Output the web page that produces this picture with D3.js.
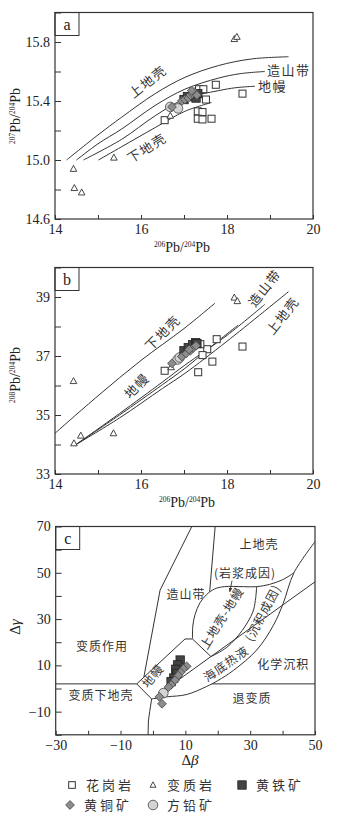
<!DOCTYPE html>
<html>
<head>
<meta charset="utf-8">
<script src="https://cdn.jsdelivr.net/npm/d3@7"></script>
<style>
    body { margin: 0; background: #fff; }
    svg text { font-family: "Liberation Serif", "DejaVu Serif", serif; fill: #222; }
    svg text.cn { font-family: "Noto Sans CJK SC", sans-serif; font-size: 12px; fill: #333; letter-spacing: 1px; }
    svg text.cn.big { font-size: 13px; letter-spacing: 1.5px; }
</style>
</head>
<body>
<div id="chart"></div>
<script>

// ---- panel a : 207Pb/204Pb vs 206Pb/204Pb ----
const a_upperCrust = [[14.27,15.0],[15.0,15.17],[15.55,15.29],[16.33,15.45],[17.02,15.56],[17.8,15.64],[18.57,15.685],[19.43,15.70]];
const a_orogen = [[14.5,15.0],[15.0,15.11],[15.55,15.21],[16.33,15.37],[17.02,15.48],[17.8,15.555],[18.3,15.585],[18.88,15.60]];
const a_mantle = [[14.66,15.0],[15.55,15.14],[16.33,15.30],[17.02,15.415],[17.8,15.47],[18.2,15.49],[18.65,15.50]];
const a_lowerCrust = [[15.01,15.0],[15.55,15.09],[16.33,15.22],[17.02,15.33],[17.64,15.39]];

const a_granite = [[16.55,15.27],[17.74,15.51],[18.36,15.45],[17.35,15.48],[17.45,15.48],[17.51,15.41],
    [17.32,15.33],[17.43,15.325],[17.32,15.28],[17.43,15.275],[17.64,15.28]];
const a_metamorphic = [[14.43,14.94],[14.45,14.81],[14.62,14.78],[15.37,15.016],[16.68,15.30],[18.17,15.82],[18.23,15.835]];
const a_pyrite = [[17.0,15.41],[17.08,15.43],[17.2,15.44],[17.28,15.42],[17.32,15.45]];
const a_chalcopyrite = [[16.72,15.36],[16.95,15.40],[17.02,15.41],[17.1,15.42],[17.15,15.44],[17.2,15.45],[17.25,15.46],[17.18,15.47],[17.3,15.44]];
const a_galena = [[16.68,15.36],[16.86,15.35]];

// ---- panel b : 208Pb/204Pb vs 206Pb/204Pb ----
const b_lowerCrust = [[14.0,34.38],[15.0,35.65],[16.0,36.85],[17.0,37.93],[17.72,38.79]];
const b_upperCrust = [[14.47,33.98],[15.5,34.9],[16.5,35.9],[17.02,36.41],[18.0,37.5],[19.43,39.18]];
const b_orogen = [[14.47,33.98],[15.5,35.05],[16.5,36.12],[17.02,36.69],[18.0,37.7],[18.88,38.75]];
const b_mantle = [[14.47,33.98],[15.5,35.0],[16.5,36.03],[17.02,36.58],[17.7,37.4],[18.26,38.05]];

const b_granite = [[16.55,36.50],[17.76,37.57],[18.36,37.32],[17.66,36.81],[17.33,36.45],[17.54,37.23],[17.43,37.03],[17.38,37.40]];
const b_metamorphic = [[14.43,36.15],[14.44,34.04],[14.6,34.30],[15.36,34.38],[16.7,36.62],[18.17,38.98],[18.24,38.86]];
const b_pyrite = [[17.0,37.18],[17.1,37.28],[17.2,37.38],[17.27,37.45],[17.3,37.42]];
const b_chalcopyrite = [[16.72,36.75],[16.95,36.98],[17.05,37.08],[17.15,37.18],[17.22,37.28],[17.28,37.35],[17.12,37.22]];
const b_galena = [[16.85,36.88],[16.9,36.95]];

// ---- panel c : Δγ vs Δβ ----
const c_baseLeft = [[-30,2],[-5,2]];
const c_baseRight = [[18.2,2],[50,2]];
const c_orogenLeft = [[12,70],[2.2,42.5],[-2.8,4.9]];
const c_orogenRight = [[19.2,70],[17.5,41.8]];
const c_mantleBox = [[-0.4,-4.5],[-5,2],[9.9,21.4],[12.2,21.4],[17.9,13.8]];
const c_lowerLine = [[-0.4,-4.5],[-1.0,-10],[-1.4,-14],[-1.5,-20]];
const c_mixTop = [[12.2,21.4],[12.3,27],[13,32],[14.5,37],[16.5,40.5],[19,43],[22,44],[28,44],[32,44],[36,45],[40,47],[43.5,50]];
const c_mixSplit = [[17.9,13.8],[22.8,17.8],[27.5,25],[30.8,33],[31.6,38],[32,44]];
const c_ventTop = [[2,-2.2],[50,46.1]];
const c_ventBottom = [[-0.4,-4.5],[4.3,-3.6],[10.4,-2.6],[16.6,0.9],[20,3.4],[24.8,7.8],[32,16.6],[37.2,27.4],[40.2,36.8],[43.5,50],[50,63.4]];
const c_magmaArrow = [[24.4,46.6],[23.7,41.8]];

const c_pyrite = [[8.4,12.3],[7.6,10.2],[7.0,8.3],[7.4,6.5],[6.4,4.5],[5.6,3.0]];
const c_chalcopyrite = [[10.4,9.6],[9.4,8.5],[8.5,7.0],[7.8,5.6],[6.8,3.6],[5.6,1.6],[4.8,0.6],[2.0,-3.6],[2.8,-6.6]];
const c_galena = [[3.2,-2.0]];

// ticks
const a_xTicks = [14, 15, 16, 17, 18, 19, 20];
const a_xLabels = [14, 16, 18, 20];
const a_yTicks = [14.6, 14.8, 15.0, 15.2, 15.4, 15.6, 15.8, 16.0];
const a_yLabels = [14.6, 15.0, 15.4, 15.8];
const b_yTicks = [33, 34, 35, 36, 37, 38, 39, 40];
const b_yLabels = [33, 35, 37, 39];
const c_xTicks = [-30, -20, -10, 0, 10, 20, 30, 40, 50];
const c_xLabels = [-30, -10, 10, 30, 50];
const c_yTicks = [-20, -10, 0, 10, 20, 30, 40, 50, 60, 70];
const c_yLabels = [-10, 10, 30, 50, 70];

const legendItems = [
    {name: "花岗岩", type: "granite"},
    {name: "变质岩", type: "metamorphic"},
    {name: "黄铁矿", type: "pyrite"},
    {name: "黄铜矿", type: "chalcopyrite"},
    {name: "方铅矿", type: "galena"}
];

const svg = d3.select("#chart").append("svg")
    .attr("width", 340)
    .attr("height", 824);

function drawPanel(opt) {
    let p = {};
    p.x = d3.scaleLinear().domain(opt.xDomain).range([opt.left, opt.right]);
    p.y = d3.scaleLinear().domain(opt.yDomain).range([opt.bottom, opt.top]);
    p.g = svg.append("g");

    let fmt = (labels, f) => d => labels.some(v => Math.abs(v - d) < 1e-9) ? f(d) : "";

    p.g.append("g")
        .attr("transform", `translate(0,${opt.bottom})`)
        .call(d3.axisBottom(p.x).tickValues(opt.xTicks).tickSize(-4).tickPadding(5)
            .tickFormat(fmt(opt.xLabels, opt.xFmt)))
        .call(g => g.select(".domain").remove())
        .call(g => g.selectAll("text").attr("font-size", 14).attr("fill", "#222")
            .style("font-family", "Liberation Serif"));

    p.g.append("g")
        .attr("transform", `translate(${opt.left},0)`)
        .call(d3.axisLeft(p.y).tickValues(opt.yTicks).tickSize(-6).tickPadding(5)
            .tickFormat(fmt(opt.yLabels, opt.yFmt)))
        .call(g => g.select(".domain").remove())
        .call(g => g.selectAll("text").attr("font-size", 14).attr("fill", "#222")
            .style("font-family", "Liberation Serif"));

    p.g.selectAll(".tick line").attr("stroke", "#333");

    // frame
    p.g.append("rect")
        .attr("x", opt.left).attr("y", opt.top)
        .attr("width", opt.right - opt.left).attr("height", opt.bottom - opt.top)
        .attr("fill", "none").attr("stroke", "#333").attr("stroke-width", 1.2);

    // panel letter box
    p.g.append("rect")
        .attr("x", opt.left).attr("y", opt.top)
        .attr("width", 24).attr("height", 23)
        .attr("fill", "none").attr("stroke", "#333").attr("stroke-width", 1);
    p.g.append("text")
        .attr("x", opt.left + 12).attr("y", opt.top + 17)
        .attr("text-anchor", "middle").attr("font-size", 16)
        .text(opt.letter);

    return p;
}

function curve(p, pts, kind) {
    let line = d3.line().x(d => p.x(d[0])).y(d => p.y(d[1]))
        .curve(kind === "lin" ? d3.curveLinear : d3.curveCatmullRom.alpha(0.5));
    p.g.append("path").datum(pts)
        .attr("d", line)
        .attr("fill", "none").attr("stroke", "#333").attr("stroke-width", 1);
}

function cnLabel(p, t, x, y, rot, anchor, big) {
    p.g.append("text").attr("class", big ? "cn big" : "cn")
        .attr("transform", `translate(${p.x(x)},${p.y(y)}) rotate(${rot || 0})`)
        .attr("text-anchor", anchor || "middle")
        .attr("dy", "0.35em")
        .text(t);
}

function marker(g, type, cx, cy, s) {
    s = s || 1;
    if (type === "granite") {
        g.append("rect").attr("x", cx - 3.5 * s).attr("y", cy - 3.5 * s)
            .attr("width", 7 * s).attr("height", 7 * s)
            .attr("fill", "#fff").attr("stroke", "#333").attr("stroke-width", 1);
    } else if (type === "metamorphic") {
        g.append("path").attr("d", `M${cx},${cy - 3.5 * s}L${cx + 3.3 * s},${cy + 2.5 * s}L${cx - 3.3 * s},${cy + 2.5 * s}Z`)
            .attr("fill", "#fff").attr("stroke", "#333").attr("stroke-width", 0.9);
    } else if (type === "pyrite") {
        g.append("rect").attr("x", cx - 4.2 * s).attr("y", cy - 4.2 * s)
            .attr("width", 8.4 * s).attr("height", 8.4 * s)
            .attr("fill", "#444").attr("stroke", "#222").attr("stroke-width", 0.8);
    } else if (type === "chalcopyrite") {
        g.append("path").attr("d", `M${cx},${cy - 4.4 * s}L${cx + 4.4 * s},${cy}L${cx},${cy + 4.4 * s}L${cx - 4.4 * s},${cy}Z`)
            .attr("fill", "#8d8d8d").attr("stroke", "#444").attr("stroke-width", 0.8);
    } else if (type === "galena") {
        g.append("circle").attr("cx", cx).attr("cy", cy).attr("r", 4.8 * s)
            .attr("fill", "#d4d4d4").attr("stroke", "#555").attr("stroke-width", 0.9);
    }
}

function points(p, pts, type) {
    pts.forEach(d => marker(p.g, type, p.x(d[0]), p.y(d[1])));
}

function pbLabel(g, x, y, top, bottom, rot) {
    let t = g.append("text")
        .attr("transform", `translate(${x},${y}) rotate(${rot})`)
        .attr("text-anchor", "middle")
        .attr("font-size", 14);
    t.append("tspan").attr("font-size", 7.5).attr("dy", -5).text(top);
    t.append("tspan").attr("dy", 5).text("Pb/");
    t.append("tspan").attr("font-size", 7.5).attr("dy", -5).text(bottom);
    t.append("tspan").attr("dy", 5).text("Pb");
}

// ---- panel a ----
let pa = drawPanel({
    xDomain: [14, 20], yDomain: [14.6, 16.0],
    left: 55, right: 313, top: 12.5, bottom: 219,
    xTicks: a_xTicks, xLabels: a_xLabels, xFmt: d3.format("d"),
    yTicks: a_yTicks, yLabels: a_yLabels, yFmt: d3.format(".1f"),
    letter: "a"
});
[a_upperCrust, a_orogen, a_mantle, a_lowerCrust].forEach(c => curve(pa, c));
cnLabel(pa, "上地壳", 16.16, 15.53, -38, null, true);
cnLabel(pa, "下地壳", 16.14, 15.08, -32, null, true);
cnLabel(pa, "造山带", 18.93, 15.61, 0, "start", true);
cnLabel(pa, "地幔", 18.72, 15.50, 0, "start", true);
points(pa, a_granite, "granite");
points(pa, a_metamorphic, "metamorphic");
points(pa, a_galena, "galena");
points(pa, a_pyrite, "pyrite");
points(pa, a_chalcopyrite, "chalcopyrite");
pbLabel(svg, 182, 252, "206", "204", 0);
pbLabel(svg, 20, 116, "207", "204", -90);

// ---- panel b ----
let pb = drawPanel({
    xDomain: [14, 20], yDomain: [33, 40],
    left: 55, right: 313, top: 267.5, bottom: 474,
    xTicks: a_xTicks, xLabels: a_xLabels, xFmt: d3.format("d"),
    yTicks: b_yTicks, yLabels: b_yLabels, yFmt: d3.format("d"),
    letter: "b"
});
[b_lowerCrust, b_upperCrust, b_orogen, b_mantle].forEach(c => curve(pb, c));
cnLabel(pb, "下地壳", 16.51, 37.78, -45, null, true);
cnLabel(pb, "地幔", 15.91, 35.98, -45, null, true);
cnLabel(pb, "造山带", 18.88, 39.3, -52, null, true);
cnLabel(pb, "上地壳", 19.3, 38.36, -52, null, true);
points(pb, b_granite, "granite");
points(pb, b_metamorphic, "metamorphic");
points(pb, b_galena, "galena");
points(pb, b_pyrite, "pyrite");
points(pb, b_chalcopyrite, "chalcopyrite");
pbLabel(svg, 187, 507, "206", "204", 0);
pbLabel(svg, 20, 375, "208", "204", -90);

// ---- panel c ----
let pc = drawPanel({
    xDomain: [-30, 50], yDomain: [-20, 70],
    left: 55.7, right: 315, top: 526.5, bottom: 734.8,
    xTicks: c_xTicks, xLabels: c_xLabels, xFmt: d => d < 0 ? "\u2212" + Math.abs(d) : d,
    yTicks: c_yTicks, yLabels: c_yLabels, yFmt: d => d < 0 ? "\u2212" + Math.abs(d) : d,
    letter: "c"
});
[c_baseLeft, c_baseRight, c_orogenLeft, c_orogenRight, c_mantleBox, c_lowerLine, c_ventTop].forEach(c => curve(pc, c, "lin"));
[c_mixTop, c_mixSplit, c_ventBottom].forEach(c => curve(pc, c));

// arrow for (岩浆成因)
svg.append("defs").append("marker")
    .attr("id", "arr").attr("viewBox", "0 0 10 10").attr("refX", 9).attr("refY", 5)
    .attr("markerWidth", 5).attr("markerHeight", 5).attr("orient", "auto")
    .append("path").attr("d", "M0,1L10,5L0,9Z").attr("fill", "#333");
pc.g.append("path").datum(c_magmaArrow)
    .attr("d", d3.line().x(d => pc.x(d[0])).y(d => pc.y(d[1])))
    .attr("stroke", "#333").attr("stroke-width", 0.9).attr("marker-end", "url(#arr)");

cnLabel(pc, "上地壳", 32.7, 62);
cnLabel(pc, "(岩浆成因)", 28.4, 49.7);
cnLabel(pc, "造山带", 10.2, 40.4);
cnLabel(pc, "上地壳-地幔", 21.3, 30.4, -58);
cnLabel(pc, "(沉积成因)", 34, 32.6, -62);
cnLabel(pc, "变质作用", -15.7, 17.9);
cnLabel(pc, "地幔", 0, 5.4, -50);
cnLabel(pc, "海底热液", 22.6, 10.6, -35);
cnLabel(pc, "化学沉积", 40.2, 10.1);
cnLabel(pc, "变质下地壳", -16, -3.3);
cnLabel(pc, "退变质", 30.6, -4.6);

points(pc, c_galena, "galena");
points(pc, c_pyrite, "pyrite");
points(pc, c_chalcopyrite, "chalcopyrite");

// axis titles for c
let cx = svg.append("text").attr("x", 190).attr("y", 765).attr("text-anchor", "middle").attr("font-size", 15);
cx.append("tspan").text("Δ");
cx.append("tspan").attr("font-style", "italic").text("β");
let cy = svg.append("text").attr("transform", "translate(20,627) rotate(-90)").attr("text-anchor", "middle").attr("font-size", 15);
cy.append("tspan").text("Δ");
cy.append("tspan").attr("font-style", "italic").text("γ");

// ---- legend ----
const legendPos = [[72, 785], [153, 785], [242, 785], [70, 805], [153, 805]];
legendItems.forEach((d, i) => {
    let lg = svg.append("g");
    let sc = d.type === "granite" ? 0.95 : d.type === "metamorphic" ? 0.9 : 1;
    marker(lg, d.type, legendPos[i][0], legendPos[i][1], sc);
    lg.append("text").attr("class", "cn")
        .attr("x", legendPos[i][0] + 14).attr("y", legendPos[i][1])
        .attr("dy", "0.35em")
        .style("font-size", "13px").style("letter-spacing", "3px")
        .text(d.name);
});

</script>
</body>
</html>
